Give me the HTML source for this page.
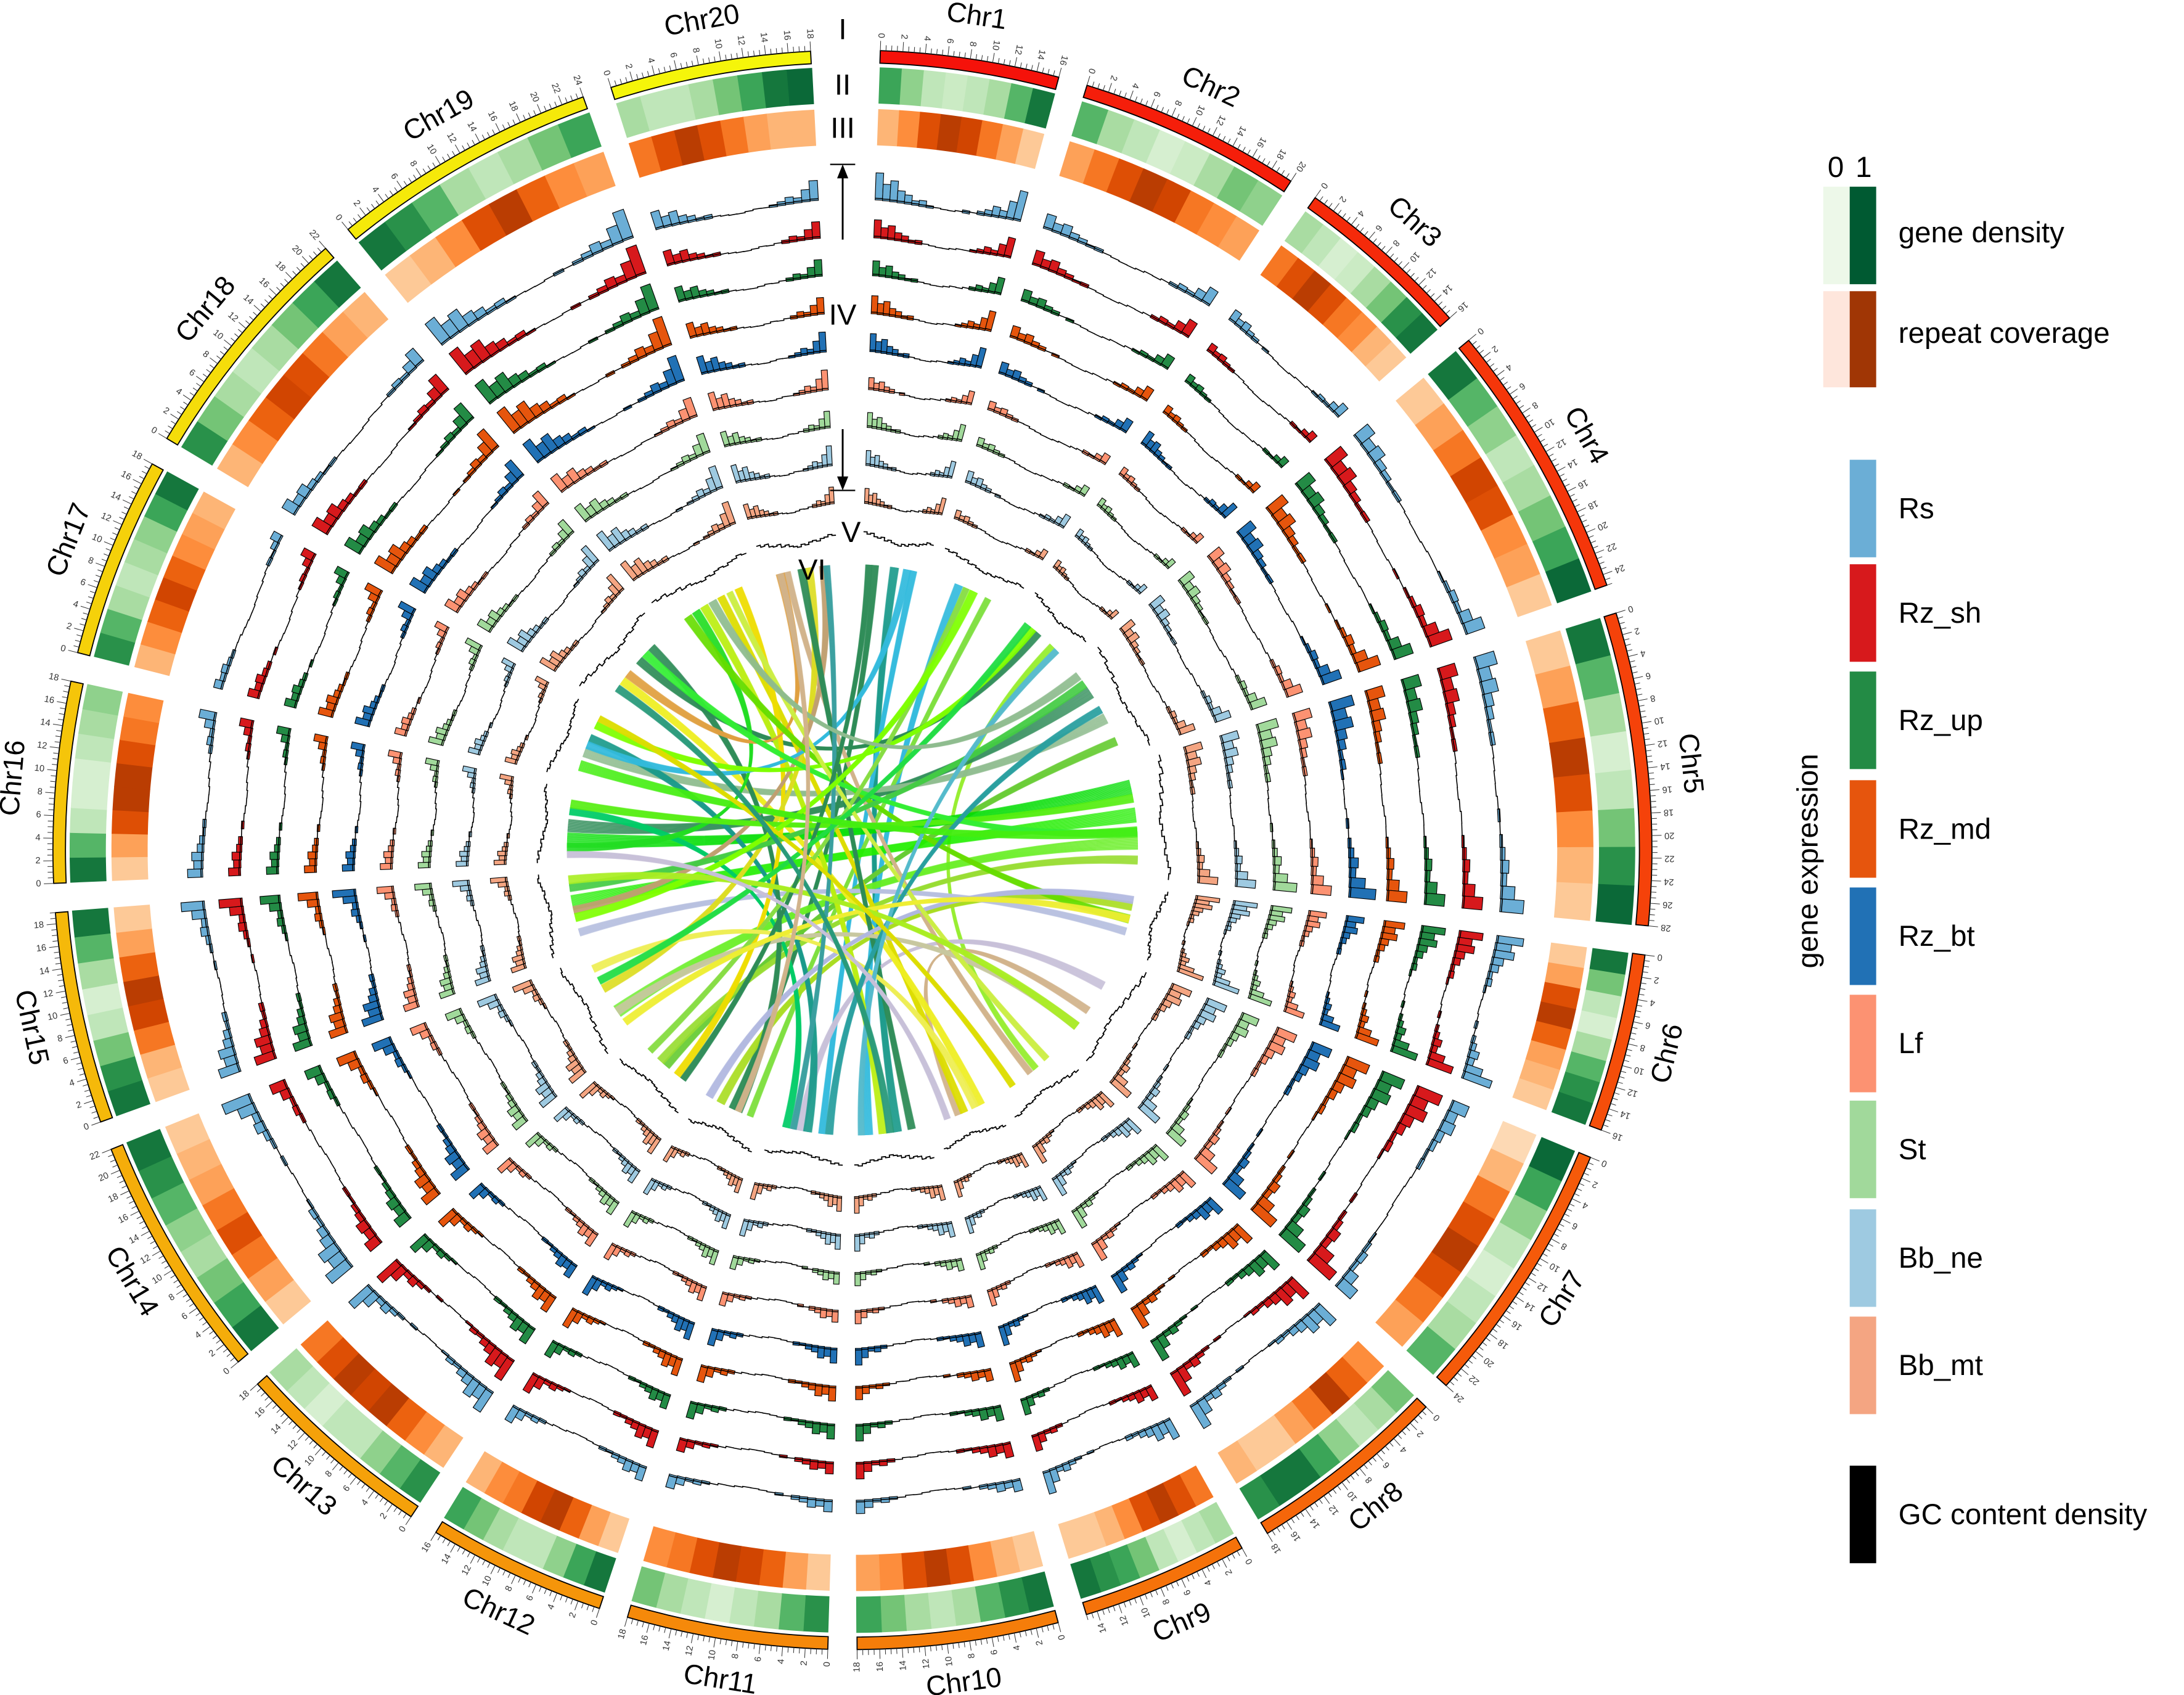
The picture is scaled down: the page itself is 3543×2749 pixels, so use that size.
<!DOCTYPE html>
<html><head><meta charset="utf-8">
<style>
html,body{margin:0;padding:0;background:#fff;}
svg{display:block;font-family:"Liberation Sans",Arial,sans-serif;}
</style></head>
<body>
<svg id="chart" width="3543" height="2749" viewBox="0 0 1568 1216.6" preserveAspectRatio="none" xmlns="http://www.w3.org/2000/svg">
  <g id="rings"></g>
  <g id="labels" font-size="21" text-anchor="middle">
    <text x="605" y="28">I</text>
    <text x="605" y="68">II</text>
    <text x="605" y="99">III</text>
    <text x="605" y="233">IV</text>
    <text x="611" y="389">V</text>
    <text x="583" y="416">VI</text>
    <line x1="605" y1="172" x2="605" y2="125" stroke="#000" stroke-width="1.3"/>
    <polygon points="601,128 609,128 605,118" fill="#000"/>
    <line x1="596" y1="118" x2="614" y2="118" stroke="#000" stroke-width="1"/>
    <line x1="605" y1="308" x2="605" y2="345" stroke="#000" stroke-width="1.3"/>
    <polygon points="601,342 609,342 605,352" fill="#000"/>
    <line x1="596" y1="352" x2="614" y2="352" stroke="#000" stroke-width="1"/>
  </g>
  <g id="legend" font-size="21"></g>
</svg>
<script>
const chromNames = ["Chr1","Chr2","Chr3","Chr4","Chr5","Chr6","Chr7","Chr8","Chr9","Chr10","Chr11","Chr12","Chr13","Chr14","Chr15","Chr16","Chr17","Chr18","Chr19","Chr20"];
const chromLengths = [16,20,16,25,28,16,24,18,15,18,18,16,18,22,19,18,18,22,24,18];
const geneDensity = [
[0.7,0.4,0.2,0.15,0.2,0.3,0.6,0.9],[0.6,0.3,0.2,0.1,0.15,0.3,0.5,0.4],[0.3,0.2,0.1,0.15,0.3,0.5,0.8,0.9],
[0.9,0.6,0.4,0.2,0.3,0.5,0.7,0.95],[0.9,0.6,0.3,0.1,0.2,0.5,0.8,0.95],[0.9,0.5,0.2,0.1,0.3,0.6,0.8,0.9],
[0.95,0.7,0.4,0.2,0.1,0.2,0.3,0.6],[0.5,0.3,0.2,0.4,0.7,0.9,0.9,0.8],[0.3,0.2,0.1,0.2,0.5,0.7,0.8,0.9],
[0.9,0.8,0.6,0.3,0.2,0.3,0.5,0.7],[0.8,0.6,0.3,0.2,0.1,0.2,0.3,0.5],[0.9,0.7,0.4,0.2,0.2,0.3,0.5,0.7],
[0.8,0.6,0.4,0.2,0.2,0.1,0.2,0.3],[0.9,0.7,0.5,0.3,0.4,0.6,0.8,0.9],[0.9,0.8,0.5,0.2,0.1,0.3,0.6,0.9],
[0.9,0.6,0.2,0.1,0.1,0.2,0.3,0.4],[0.8,0.6,0.3,0.2,0.3,0.4,0.7,0.9],[0.8,0.5,0.3,0.2,0.3,0.5,0.7,0.9],
[0.9,0.8,0.6,0.3,0.2,0.3,0.5,0.7],[0.3,0.2,0.2,0.3,0.5,0.7,0.9,0.95]];
const repeatCov = [
[0.3,0.5,0.8,0.9,0.85,0.6,0.4,0.2],[0.4,0.6,0.8,0.9,0.85,0.6,0.5,0.4],[0.6,0.8,0.9,0.8,0.6,0.5,0.3,0.2],
[0.2,0.4,0.6,0.85,0.8,0.5,0.4,0.2],[0.2,0.4,0.7,0.9,0.8,0.5,0.3,0.2],[0.2,0.4,0.8,0.9,0.7,0.4,0.3,0.2],
[0.1,0.3,0.6,0.8,0.9,0.8,0.6,0.4],[0.5,0.7,0.9,0.6,0.4,0.2,0.2,0.3],[0.6,0.8,0.9,0.8,0.5,0.3,0.2,0.2],
[0.2,0.3,0.5,0.8,0.9,0.8,0.5,0.4],[0.2,0.4,0.7,0.85,0.9,0.8,0.6,0.5],[0.2,0.4,0.7,0.9,0.85,0.6,0.5,0.3],
[0.3,0.5,0.7,0.9,0.85,0.9,0.8,0.6],[0.2,0.4,0.6,0.8,0.6,0.4,0.3,0.2],[0.2,0.3,0.6,0.85,0.9,0.7,0.4,0.2],
[0.2,0.4,0.8,0.9,0.9,0.8,0.6,0.5],[0.3,0.5,0.7,0.85,0.7,0.5,0.4,0.3],[0.3,0.5,0.7,0.85,0.8,0.6,0.4,0.3],
[0.2,0.3,0.5,0.8,0.9,0.7,0.5,0.4],[0.6,0.8,0.9,0.8,0.6,0.4,0.3,0.3]];
const trackNames = ["Rs","Rz_sh","Rz_up","Rz_md","Rz_bt","Lf","St","Bb_ne","Bb_mt"];
const trackColors = ["#6baed6","#d7191c","#238b45","#e6550d","#2171b5","#fc9272","#a1d99b","#9ecae1","#f4a582"];
const binProfile = [0.9,0.55,0.7,0.4,0.3,0.15,0.2,0.08,0.06,0.05,0.04,0.06,0.1,0.05,0.12,0.2,0.35,0.25,0.6,1];
const exprRs   = [0.9,0.5,0.4,0.6,0.7,0.9,0.6,0.8,0.7,0.4,0.4,0.5,0.8,0.9,0.7,0.5,0.3,0.5,0.9,0.6];
const exprRzSh = [0.6,0.5,0.3,0.7,0.6,0.8,0.9,0.8,0.5,0.5,0.4,0.6,0.8,0.5,0.7,0.4,0.4,0.6,0.9,0.5];
const exprRzUp = [0.5,0.4,0.3,0.6,0.6,0.8,0.8,0.7,0.5,0.5,0.5,0.5,0.6,0.5,0.6,0.4,0.4,0.6,0.8,0.5];
const exprRzMd = [0.6,0.4,0.3,0.7,0.6,0.7,0.8,0.7,0.6,0.4,0.5,0.6,0.6,0.6,0.6,0.4,0.5,0.7,0.9,0.5];
const exprRzBt = [0.6,0.4,0.5,0.6,0.8,0.6,0.7,0.6,0.6,0.5,0.5,0.6,0.5,0.6,0.7,0.4,0.5,0.6,0.8,0.6];
const exprLf   = [0.4,0.3,0.3,0.5,0.6,0.6,0.7,0.6,0.5,0.4,0.4,0.5,0.5,0.5,0.5,0.4,0.4,0.5,0.6,0.6];
const exprSt   = [0.5,0.3,0.3,0.5,0.7,0.7,0.6,0.6,0.5,0.4,0.4,0.5,0.5,0.5,0.5,0.4,0.5,0.5,0.6,0.5];
const exprBbNe = [0.5,0.4,0.3,0.5,0.6,0.8,0.7,0.6,0.5,0.5,0.5,0.5,0.5,0.6,0.5,0.4,0.4,0.6,0.7,0.6];
const exprBbMt = [0.5,0.3,0.3,0.5,0.6,0.8,0.7,0.6,0.5,0.5,0.5,0.5,0.6,0.6,0.5,0.4,0.4,0.6,0.7,0.5];
const exprAll = [exprRs,exprRzSh,exprRzUp,exprRzMd,exprRzBt,exprLf,exprSt,exprBbNe,exprBbMt];
const gcProfile = [0.8,0.7,0.75,0.6,0.55,0.6,0.45,0.5,0.4,0.35,0.3,0.4,0.35,0.45,0.5,0.45,0.55,0.6,0.7,0.65];
const gcLevel = [0.6,0.5,0.5,0.6,0.7,0.6,0.6,0.5,0.5,0.6,0.5,0.6,0.5,0.6,0.6,0.5,0.5,0.6,0.6,0.6];
// links: [chrA, fracA, chrB, fracB, span(Mb), color]
const links = [
[1,0.2,12,0.5,1.6,"#2e8b57"],[1,0.5,10,0.4,2.0,"#1a9a8a"],[1,0.8,11,0.3,1.6,"#33bbdd"],[2,0.3,10,0.8,2.0,"#33bbdd"],
[2,0.7,12,0.2,1.5,"#7fdf40"],[3,0.4,18,0.6,2.0,"#2e8b57"],[3,0.7,8,0.4,1.5,"#99ee33"],[4,0.3,16,0.5,3.0,"#2e8b57"],
[4,0.6,17,0.4,2.5,"#8fbc8f"],[4,0.85,13,0.5,2.0,"#66cc33"],[5,0.2,16,0.3,3.5,"#00dd00"],[5,0.45,15,0.6,3.5,"#22ee00"],
[5,0.7,14,0.3,3.0,"#66ee22"],[5,0.85,13,0.6,2.0,"#99dd33"],[6,0.3,12,0.7,2.0,"#aadd22"],[6,0.7,15,0.2,1.8,"#b8c0e0"],
[7,0.3,11,0.6,2.0,"#c8c0d8"],[7,0.6,9,0.6,1.8,"#d2b48c"],[8,0.5,20,0.3,1.5,"#d2b48c"],[9,0.5,19,0.6,1.8,"#dddd00"],
[9,0.2,18,0.3,2.0,"#eeee22"],[10,0.6,19,0.4,2.0,"#bbee11"],[11,0.5,17,0.6,2.0,"#1a9a8a"],[11,0.8,16,0.7,1.8,"#00cc66"],
[12,0.4,18,0.8,2.0,"#2e8b57"],[13,0.3,19,0.8,1.8,"#eedd00"],[14,0.6,20,0.6,2.0,"#dddd22"],[15,0.5,20,0.8,1.8,"#c0a070"],
[16,0.2,19,0.3,2.0,"#22dd22"],[17,0.5,1,0.7,1.8,"#33bbdd"],[18,0.4,20,0.2,2.0,"#e0a040"],[19,0.2,6,0.5,2.0,"#66dd00"],
[20,0.5,10,0.2,1.8,"#2e8b57"],[14,0.3,7,0.8,2.0,"#c8c8a0"],[15,0.8,4,0.2,2.0,"#44cc44"],[16,0.8,5,0.3,2.0,"#55ee11"],
[17,0.8,3,0.3,1.8,"#7fff00"],[18,0.7,5,0.6,2.0,"#33ee33"],[13,0.8,2,0.4,1.5,"#88dd44"],[12,0.9,6,0.2,1.8,"#b0b8e0"],
[14,0.85,9,0.3,1.8,"#eeee55"],[19,0.7,8,0.2,1.5,"#ccee44"],[11,0.2,4,0.5,1.8,"#2aa0a0"],[10,0.9,3,0.8,1.5,"#55bbcc"],
[20,0.85,11,0.7,1.5,"#3aa0a0"],[1,0.1,13,0.2,1.5,"#2e8b57"],[2,0.5,15,0.4,2.0,"#7fff00"],[3,0.2,14,0.7,1.8,"#22dd44"],
[4,0.1,19,0.5,2.0,"#8fbc8f"],[5,0.6,17,0.2,2.5,"#44ee11"],[6,0.5,14,0.15,1.8,"#eeee33"],[7,0.8,15,0.9,2.0,"#aaee22"],
[8,0.8,17,0.9,1.5,"#dddd00"],[9,0.8,16,0.1,1.5,"#c8c0d8"],[18,0.2,10,0.5,1.8,"#2a9a7a"],[20,0.2,12,0.4,1.5,"#d2b48c"]];

const NS="http://www.w3.org/2000/svg";
const cx=612, cy=610;
const totalMb=chromLengths.reduce((a,b)=>a+b,0);
const startDeg=2, degPerMb=0.81, gapDeg=(355-totalMb*degPerMb)/19;
const chromStart=[]; let acc=startDeg;
chromLengths.forEach((L,i)=>{chromStart.push(acc); acc+=L*degPerMb+gapDeg;});
function ang(c,mb){return chromStart[c]+mb*degPerMb;}
function pt(r,deg){const a=deg*Math.PI/180;return [cx+r*Math.sin(a), cy-r*Math.cos(a)];}
function arcPath(r1,r2,d1,d2){
  const large=(d2-d1)>180?1:0;
  const a=pt(r2,d1),b=pt(r2,d2),c=pt(r1,d2),d=pt(r1,d1);
  return `M${a[0]},${a[1]}A${r2},${r2} 0 ${large} 1 ${b[0]},${b[1]}L${c[0]},${c[1]}A${r1},${r1} 0 ${large} 0 ${d[0]},${d[1]}Z`;
}
function mk(tag,attrs,parent){const e=document.createElementNS(NS,tag);for(const k in attrs)e.setAttribute(k,attrs[k]);parent.appendChild(e);return e;}
function mix(c1,c2,t){return `rgb(${c1.map((v,i)=>Math.round(v+(c2[i]-v)*t)).join(",")})`;}
function greens(t){const s=[[237,248,233],[199,233,192],[161,217,155],[116,196,118],[65,171,93],[35,139,69],[0,90,50]];const x=t*(s.length-1),i=Math.min(Math.floor(x),s.length-2);return mix(s[i],s[i+1],x-i);}
function oranges(t){const s=[[254,230,206],[253,208,162],[253,174,107],[253,141,60],[241,105,19],[217,72,1],[140,45,4]];const x=t*(s.length-1),i=Math.min(Math.floor(x),s.length-2);return mix(s[i],s[i+1],x-i);}
const rings=document.getElementById('rings');

const linkG=mk('g',{},rings);


const rL=205;
links.forEach(l=>{
  const [ca,fa,cb,fb,sp,col]=l;
  const g=mk('g',{},linkG);
  
  
  const nLines=16;
  for(let k=0;k<nLines;k++){
    const off=(k/(nLines-1)-0.5)*sp;
    const a1=ang(ca-1,fa*chromLengths[ca-1]+off), a2=ang(cb-1,fb*chromLengths[cb-1]-off);
    const p1=pt(rL,a1),p2=pt(rL,a2);
    const p=mk('path',{d:`M${p1[0]},${p1[1]}Q${cx},${cy} ${p2[0]},${p2[1]}`,fill:'none',stroke:col,'stroke-width':0.8,'stroke-opacity':0.7},g);
    
    
  }
});

chromNames.forEach((name,c)=>{
  const L=chromLengths[c], d1=ang(c,0), d2=ang(c,L);
  const g=mk('g',{},rings);
  
  
  const hue=2+c*58/19;
  const ide=mk('path',{d:arcPath(565,574,d1,d2),fill:`hsl(${hue},92%,50%)`,stroke:'#000','stroke-width':0.8},g);
  
  
  for(let m=0;m<=L;m+=0.5){
    const a=ang(c,m), big=(m%2===0);
    const p1=pt(574,a),p2=pt(big?581:578,a);
    mk('line',{x1:p1[0],y1:p1[1],x2:p2[0],y2:p2[1],stroke:'#333','stroke-width':0.45},g);
    if(big){
      const q=pt(583,a);
      const t=mk('text',{x:q[0],y:q[1],'font-size':6.5,'text-anchor':'end','dominant-baseline':'middle',transform:`rotate(${a+90} ${q[0]} ${q[1]})`,fill:'#333'},g);
      t.textContent=m;
      
      
    }
  }
  const mid=(d1+d2)/2; const lp=pt(604,mid);
  let rot=(mid>90&&mid<258)?mid-180:mid;
  const lab=mk('text',{x:lp[0],y:lp[1],'font-size':20,'text-anchor':'middle','dominant-baseline':'middle',transform:`rotate(${rot} ${lp[0]} ${lp[1]})`},g);
  lab.textContent=name;
  
  
  const nb=geneDensity[c].length;
  geneDensity[c].forEach((v,b)=>{
    const e=mk('path',{d:arcPath(536,562,ang(c,b*L/nb),ang(c,(b+1)*L/nb)+0.05),fill:greens(v)},g);
    
    
  });
  repeatCov[c].forEach((v,b)=>{
    const e=mk('path',{d:arcPath(506,532,ang(c,b*L/nb),ang(c,(b+1)*L/nb)+0.05),fill:oranges(v)},g);
    
    
  });
  const nbin=binProfile.length;
  exprAll.forEach((arr,t)=>{
    const r0=463-t*27.25, rise=4;
    let pts=[];
    binProfile.forEach((bp,b)=>{
      const h=bp*arr[c]*24;
      const aA=ang(c,b*L/nbin), aB=ang(c,(b+1)*L/nbin);
      const base=r0+rise*Math.abs((b+0.5)/nbin-0.5)*2;
      if(h>1.5){
        const bar=mk('path',{d:arcPath(base,base+h,aA,aB),fill:trackColors[t],stroke:'#000','stroke-width':0.5},g);
        
        
      }
      pts.push(pt(base+Math.min(h,1.2),aA),pt(base+Math.min(h,1.2),aB));
    });
    const pl=mk('polyline',{points:pts.map(p=>p.join(',')).join(' '),fill:'none',stroke:'#000','stroke-width':0.7},g);
    
    
  });
  let gp=[];
  gcProfile.forEach((v,b)=>{
    const r=216+v*gcLevel[c]*26;
    gp.push(pt(r,ang(c,b*L/nbin)),pt(r,ang(c,(b+1)*L/nbin)));
  });
  const gl=mk('polyline',{points:gp.map(p=>p.join(',')).join(' '),fill:'none',stroke:'#000','stroke-width':0.8},g);
  
  
});

const lg=document.getElementById('legend');
function lt(x,y,s,name,extra){const t=mk('text',Object.assign({x:x,y:y},extra||{}),lg);t.textContent=s;return t;}
lt(1318,127,'0','legend-scale-0',{'text-anchor':'middle'});
lt(1338,127,'1','legend-scale-1',{'text-anchor':'middle'});
let r;
r=mk('rect',{x:1309,y:134,width:19,height:70,fill:'#edf8e9'},lg);
r=mk('rect',{x:1328,y:134,width:19,height:70,fill:'#005a32'},lg);
r=mk('rect',{x:1309,y:209,width:19,height:69,fill:'#fee6dc'},lg);
r=mk('rect',{x:1328,y:209,width:19,height:69,fill:'#a03605'},lg);
lt(1363,174,'gene density','legend-gene-density');
lt(1363,246,'repeat coverage','legend-repeat-coverage');
const boxY=[330,405,482,560,637,714,790,868,945];
trackNames.forEach((n,i)=>{
  const b=mk('rect',{x:1328,y:boxY[i],width:19,height:70,fill:trackColors[i]},lg);
  
  
  lt(1363,boxY[i]+42,n,'legend-label-'+n.toLowerCase());
});
r=mk('rect',{x:1328,y:1052,width:19,height:70,fill:'#000'},lg);
lt(1363,1094,'GC content density','legend-label-gc');
lt(1305,618,'gene expression','legend-gene-expression-title',{'text-anchor':'middle',transform:'rotate(-90 1305 618)'});
</script>
</body></html>
